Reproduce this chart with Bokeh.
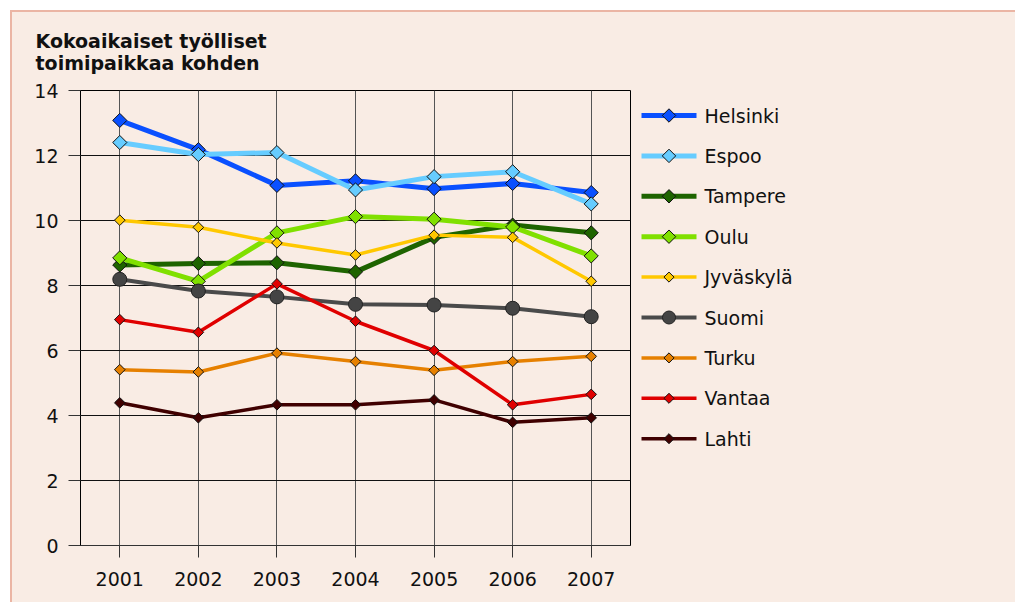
import numpy as np
from bokeh.plotting import figure
from bokeh.layouts import row
from bokeh.models import Title, FixedTicker, Range1d
from bokeh.core.properties import value
from bokeh.embed import file_html
from bokeh.resources import INLINE

years = [2001, 2002, 2003, 2004, 2005, 2006, 2007]
y_ticks = [0, 2, 4, 6, 8, 10, 12, 14]

helsinki = [13.08, 12.18, 11.08, 11.22, 10.98, 11.14, 10.86]
espoo = [12.40, 12.03, 12.09, 10.94, 11.35, 11.50, 10.51]
tampere = [8.63, 8.68, 8.70, 8.42, 9.48, 9.86, 9.62]
oulu = [8.85, 8.13, 9.62, 10.12, 10.04, 9.80, 8.91]
jyvaskyla = [10.01, 9.79, 9.31, 8.94, 9.55, 9.48, 8.13]
suomi = [8.19, 7.83, 7.65, 7.42, 7.40, 7.30, 7.04]
turku = [5.41, 5.34, 5.92, 5.66, 5.39, 5.66, 5.82]
vantaa = [6.95, 6.56, 8.05, 6.90, 6.00, 4.33, 4.65]
lahti = [4.39, 3.93, 4.33, 4.33, 4.48, 3.79, 3.93]

names = ["Helsinki", "Espoo", "Tampere", "Oulu", "Jyväskylä", "Suomi", "Turku", "Vantaa", "Lahti"]
values_list = [helsinki, espoo, tampere, oulu, jyvaskyla, suomi, turku, vantaa, lahti]
colors = ["#0a50ff", "#66ccff", "#1e6400", "#80e000", "#ffc800", "#4a4a4a", "#e68000", "#e00000", "#400000"]
widths = [5, 5, 5, 5, 3.5, 4, 3.5, 3.5, 3.5]
markers = ["diamond", "diamond", "diamond", "diamond", "diamond", "circle", "diamond", "diamond", "diamond"]
msizes = [10, 10, 10, 10, 7.5, 14, 7.5, 7.5, 7.5]

BG = "#f9ece4"
FONT = "DejaVu Sans"
TOP, BOTTOM = 78, 57

# content area starts at (12, 12) on the page (10px margin + 2px border)
p = figure(width=620, height=590, output_backend="svg", toolbar_location=None,
           x_range=Range1d(2000.5, 2007.5), y_range=Range1d(0, 14),
           min_border_left=68, min_border_right=2, min_border_top=TOP, min_border_bottom=BOTTOM,
           background_fill_color=BG, border_fill_color=BG)

p.outline_line_color = "black"
p.outline_line_width = 1

p.xaxis.ticker = FixedTicker(ticks=years)
p.yaxis.ticker = FixedTicker(ticks=y_ticks)
for ax in (p.xaxis[0], p.yaxis[0]):
    ax.major_tick_out = 12
    ax.major_tick_in = 0
    ax.minor_tick_out = 0
    ax.minor_tick_in = 0
    ax.major_label_text_font = FONT
    ax.major_label_text_font_size = "19px"
    ax.major_label_text_color = "#111111"
    ax.major_tick_line_color = "#333333"
    ax.axis_line_color = "#333333"
    ax.major_label_standoff = 10
p.xaxis.major_label_standoff = 14
p.yaxis.axis_line_color = "black"

p.xgrid.grid_line_color = "#555555"
p.ygrid.grid_line_color = "#111111"
p.xgrid.ticker = FixedTicker(ticks=years)
p.ygrid.ticker = FixedTicker(ticks=y_ticks)

for vals, color, lw, mk, sz in zip(values_list, colors, widths, markers, msizes):
    p.line(years, vals, line_color=color, line_width=lw)
    if mk == "circle":
        p.scatter(years, vals, marker="circle", size=sz, fill_color="#444444",
                  line_color="#222222", line_width=1)
    else:
        p.scatter(years, vals, marker="square", angle=np.pi / 4, size=sz,
                  fill_color=color, line_color="#111111", line_width=1)

title = Title(text="Kokoaikaiset työlliset\ntoimipaikkaa kohden", align="left",
              vertical_align="top", offset=-45, standoff=30, text_font=FONT,
              text_font_size="19px", text_font_style="bold", text_color="#111111")
p.add_layout(title, "above")

# legend panel (content pixel coordinates, y downward)
LW, LH = 383, 590
leg = figure(width=LW, height=LH, output_backend="svg", toolbar_location=None,
             x_range=Range1d(0, LW), y_range=Range1d(LH - BOTTOM, TOP),
             min_border_left=0, min_border_right=0, min_border_top=TOP, min_border_bottom=BOTTOM,
             background_fill_color=BG, border_fill_color=BG)
leg.axis.visible = False
leg.grid.visible = False
leg.outline_line_color = None

top, step = 103, 40.4
gx0, gx1, tx = 9, 64, 72
for i, (name, color, lw, mk, sz) in enumerate(zip(names, colors, widths, markers, msizes)):
    yy = top + i * step
    leg.line([gx0, gx1], [yy, yy], line_color=color, line_width=lw)
    if mk == "circle":
        leg.scatter([(gx0 + gx1) / 2], [yy], marker="circle", size=13, fill_color="#444444",
                    line_color="#222222", line_width=1)
    else:
        leg.scatter([(gx0 + gx1) / 2], [yy], marker="square", angle=np.pi / 4,
                    size=sz * 0.95, fill_color=color, line_color="#111111", line_width=1)
    leg.text([tx], [yy], text=[name], text_baseline="middle", text_align="left",
             text_font=value(FONT), text_font_size=value("19px"), text_color="#111111")

layout = row(p, leg, spacing=0,
             styles={"margin-top": "10px", "margin-left": "10px", "background-color": BG,
                     "border-top": "2px solid #ebb5a4", "border-left": "2px solid #ebb5a4"})

open("out.html", "w").write(file_html(layout, INLINE))
